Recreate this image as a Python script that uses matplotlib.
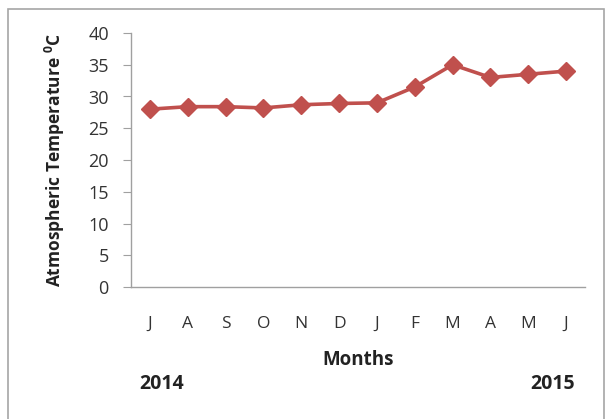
import matplotlib.pyplot as plt
from matplotlib.patches import Rectangle

months = ['J', 'A', 'S', 'O', 'N', 'D', 'J', 'F', 'M', 'A', 'M', 'J']
temps = [28.0, 28.4, 28.4, 28.2, 28.7, 28.9, 29.0, 31.5, 35.0, 33.0, 33.5, 34.0]
yticks = [0, 5, 10, 15, 20, 25, 30, 35, 40]

plt.rcParams['font.family'] = ['Open Sans', 'DejaVu Sans']
plt.rcParams['mathtext.fontset'] = 'custom'
plt.rcParams['mathtext.rm'] = 'Open Sans'
plt.rcParams['mathtext.bf'] = 'Open Sans:bold'
W, H = 608, 419
fig = plt.figure(figsize=(W / 100, H / 100), dpi=100)

# outer chart frame
fig.patches.append(Rectangle((8 / W, -0.01), 596 / W, 1 - 9 / H + 0.01,
                             transform=fig.transFigure, fill=False,
                             edgecolor='#a6a6a6', linewidth=1.2))

ax = fig.add_axes([131 / W, 1 - 287 / H, 454 / W, 254 / H])
x = list(range(len(months)))
ax.plot(x, temps, color='#C0504D', linewidth=2.6, marker='D',
        markersize=9, markeredgecolor='#C0504D', markerfacecolor='#C0504D')

ax.set_xlim(-0.5, len(months) - 0.5)
ax.set_ylim(0, 40)
ax.set_yticks(yticks)
ax.set_xticks(x)
ax.set_xticklabels(months)

for s in ['top', 'right']:
    ax.spines[s].set_visible(False)
for s in ['left', 'bottom']:
    ax.spines[s].set_color('#a0a0a0')
    ax.spines[s].set_linewidth(1.0)

ax.tick_params(axis='y', length=6, color='#a0a0a0', pad=10,
               labelsize=13, labelcolor='#333333')
ax.tick_params(axis='x', length=0, pad=21, labelsize=12.5, labelcolor='#333333')

fig.text(55 / W, 1 - 160 / H, r'Atmospheric Temperature $\mathbf{^{0}}$C', rotation=90,
         ha='center', va='center', fontsize=12.5, fontweight='bold', color='#222222')
fig.text(358 / W, 1 - 360 / H, 'Months', ha='center', va='center',
         fontsize=13.5, fontweight='bold', color='#222222')
fig.text(162 / W, 1 - 384 / H, '2014', ha='center', va='center',
         fontsize=14, fontweight='bold', color='#222222')
fig.text(553 / W, 1 - 384 / H, '2015', ha='center', va='center',
         fontsize=14, fontweight='bold', color='#222222')

fig.savefig('out.png', dpi=100)
